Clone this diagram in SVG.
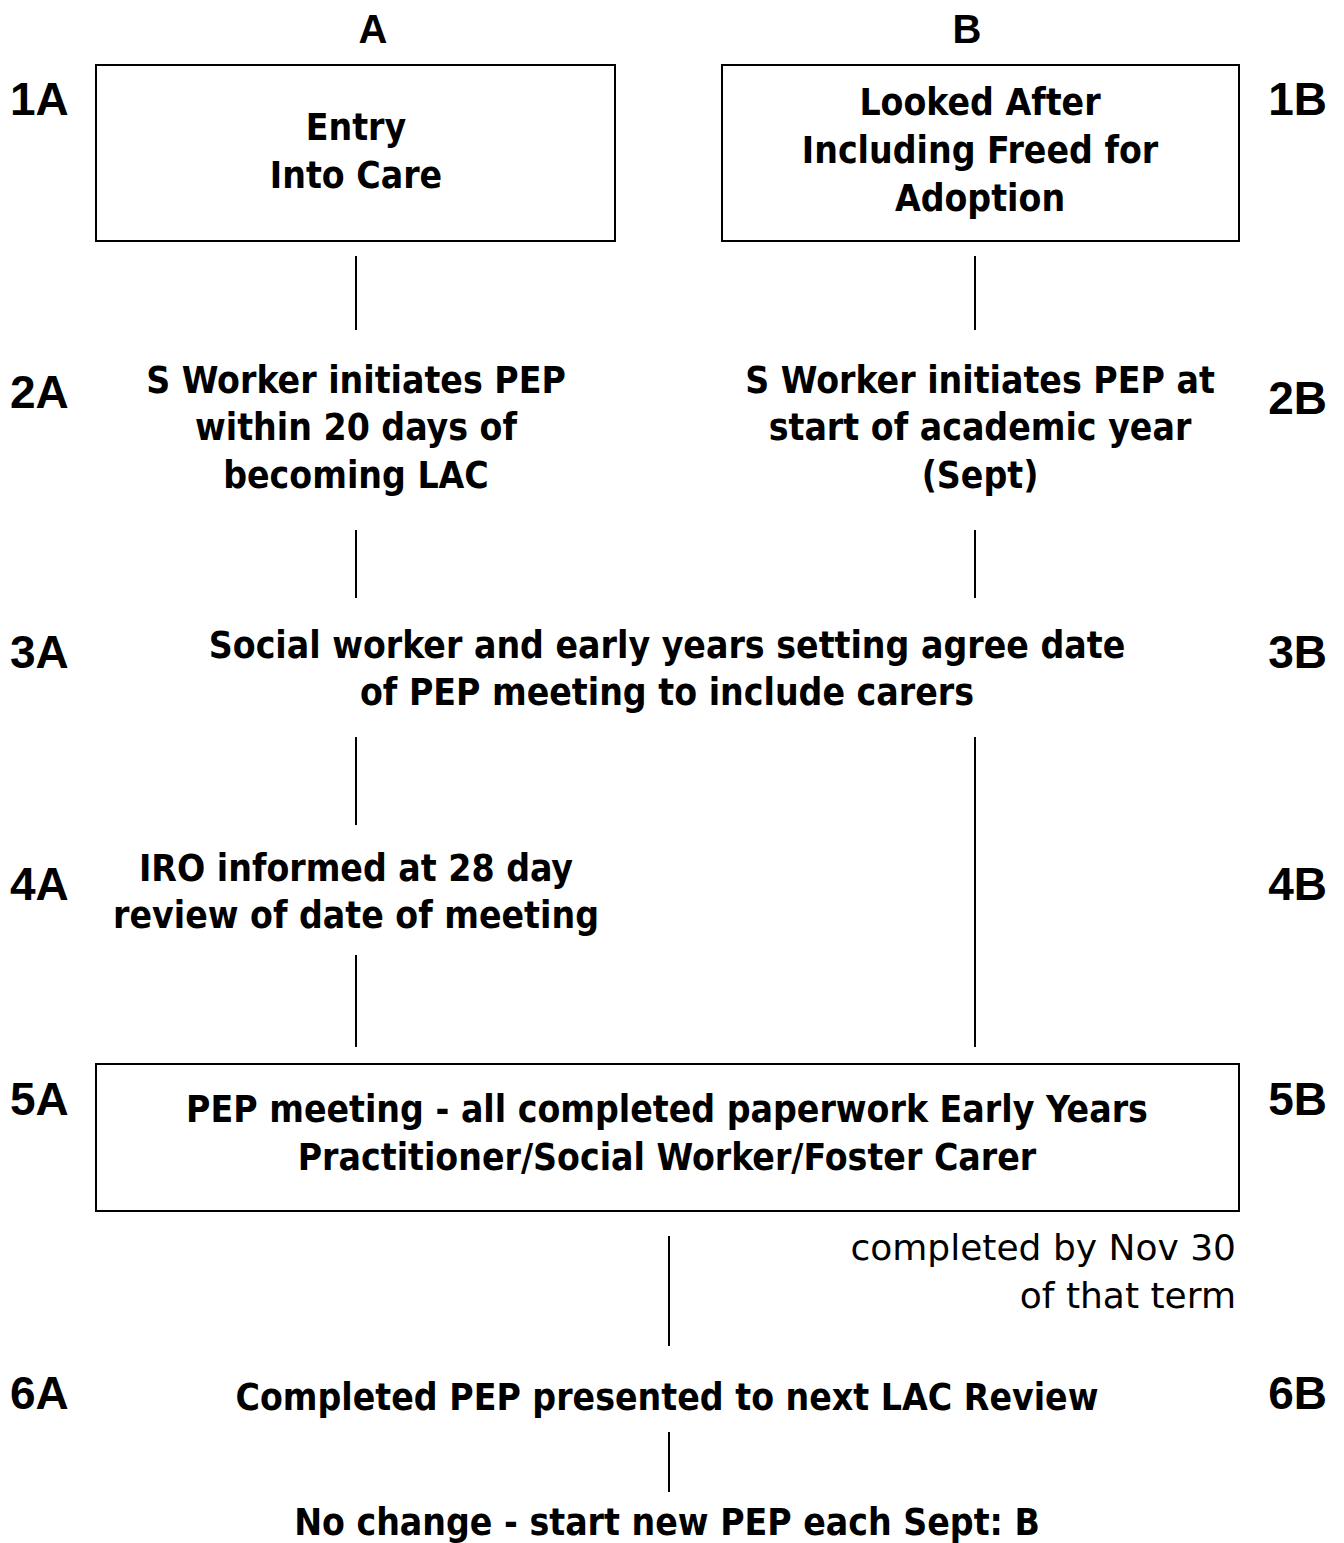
<svg xmlns="http://www.w3.org/2000/svg" width="1344" height="1543" viewBox="0 0 1344 1543">
<style>
.hd{font-family:"Liberation Sans",Arial,sans-serif;font-weight:bold;font-size:46px;fill:#000}
.hr{font-family:"Liberation Sans",Arial,sans-serif;font-weight:bold;font-size:46px;fill:#000;text-anchor:end}
.col{font-family:"Liberation Sans",Arial,sans-serif;font-weight:bold;font-size:40px;fill:#000;text-anchor:middle}
.t{font-family:"DejaVu Sans Condensed","DejaVu Sans",sans-serif;font-weight:bold;font-size:37px;fill:#000;text-anchor:middle}
.r{font-family:"DejaVu Sans",sans-serif;font-size:36px;fill:#000;text-anchor:end}
.box{fill:#fff;stroke:#000;stroke-width:2}
.c{stroke:#000;stroke-width:2;fill:none}
</style>
<rect width="1344" height="1543" fill="#fff"/>
<g id="labels">
<text class="col" x="373" y="43">A</text>
<text class="col" x="967" y="43">B</text>
<text class="hd" x="10" y="115">1A</text>
<text class="hr" x="1327" y="115">1B</text>
<text class="hd" x="10" y="408">2A</text>
<text class="hr" x="1327" y="414">2B</text>
<text class="hd" x="10" y="668">3A</text>
<text class="hr" x="1327" y="668">3B</text>
<text class="hd" x="10" y="900">4A</text>
<text class="hr" x="1327" y="900">4B</text>
<text class="hd" x="10" y="1115">5A</text>
<text class="hr" x="1327" y="1115">5B</text>
<text class="hd" x="10" y="1409">6A</text>
<text class="hr" x="1327" y="1409">6B</text>
</g>
<g id="n1A">
<rect class="box" x="96" y="65" width="519" height="176"/>
<text class="t" x="356" y="140">Entry</text>
<text class="t" x="356" y="188">Into Care</text>
</g>
<g id="n1B">
<rect class="box" x="722" y="65" width="517" height="176"/>
<text class="t" x="980" y="115">Looked After</text>
<text class="t" x="980" y="163">Including Freed for</text>
<text class="t" x="980" y="211">Adoption</text>
</g>
<g id="n2A">
<text class="t" x="356" y="393">S Worker initiates PEP</text>
<text class="t" x="356" y="440">within 20 days of</text>
<text class="t" x="356" y="488">becoming LAC</text>
</g>
<g id="n2B">
<text class="t" x="980" y="393">S Worker initiates PEP at</text>
<text class="t" x="980" y="440">start of academic year</text>
<text class="t" x="980" y="488">(Sept)</text>
</g>
<g id="n3">
<text class="t" x="667" y="658">Social worker and early years setting agree date</text>
<text class="t" x="667" y="705">of PEP meeting to include carers</text>
</g>
<g id="n4A">
<text class="t" x="356" y="881">IRO informed at 28 day</text>
<text class="t" x="356" y="928">review of date of meeting</text>
</g>
<g id="n5">
<rect class="box" x="96" y="1064" width="1143" height="147"/>
<text class="t" x="667" y="1122">PEP meeting - all completed paperwork Early Years</text>
<text class="t" x="667" y="1170">Practitioner/Social Worker/Foster Carer</text>
</g>
<g id="note">
<text class="r" x="1236" y="1260">completed by Nov 30</text>
<text class="r" x="1236" y="1308">of that term</text>
</g>
<g id="n6">
<text class="t" x="667" y="1410">Completed PEP presented to next LAC Review</text>
</g>
<g id="n7">
<text class="t" x="667" y="1535">No change - start new PEP each Sept: B</text>
</g>
<g id="connectors">
<line class="c" x1="356" y1="256" x2="356" y2="330"/>
<line class="c" x1="975" y1="256" x2="975" y2="330"/>
<line class="c" x1="356" y1="530" x2="356" y2="598"/>
<line class="c" x1="975" y1="530" x2="975" y2="598"/>
<line class="c" x1="356" y1="737" x2="356" y2="825"/>
<line class="c" x1="975" y1="737" x2="975" y2="1047"/>
<line class="c" x1="356" y1="955" x2="356" y2="1047"/>
<line class="c" x1="669" y1="1236" x2="669" y2="1346"/>
<line class="c" x1="669" y1="1432" x2="669" y2="1492"/>
</g>
</svg>
